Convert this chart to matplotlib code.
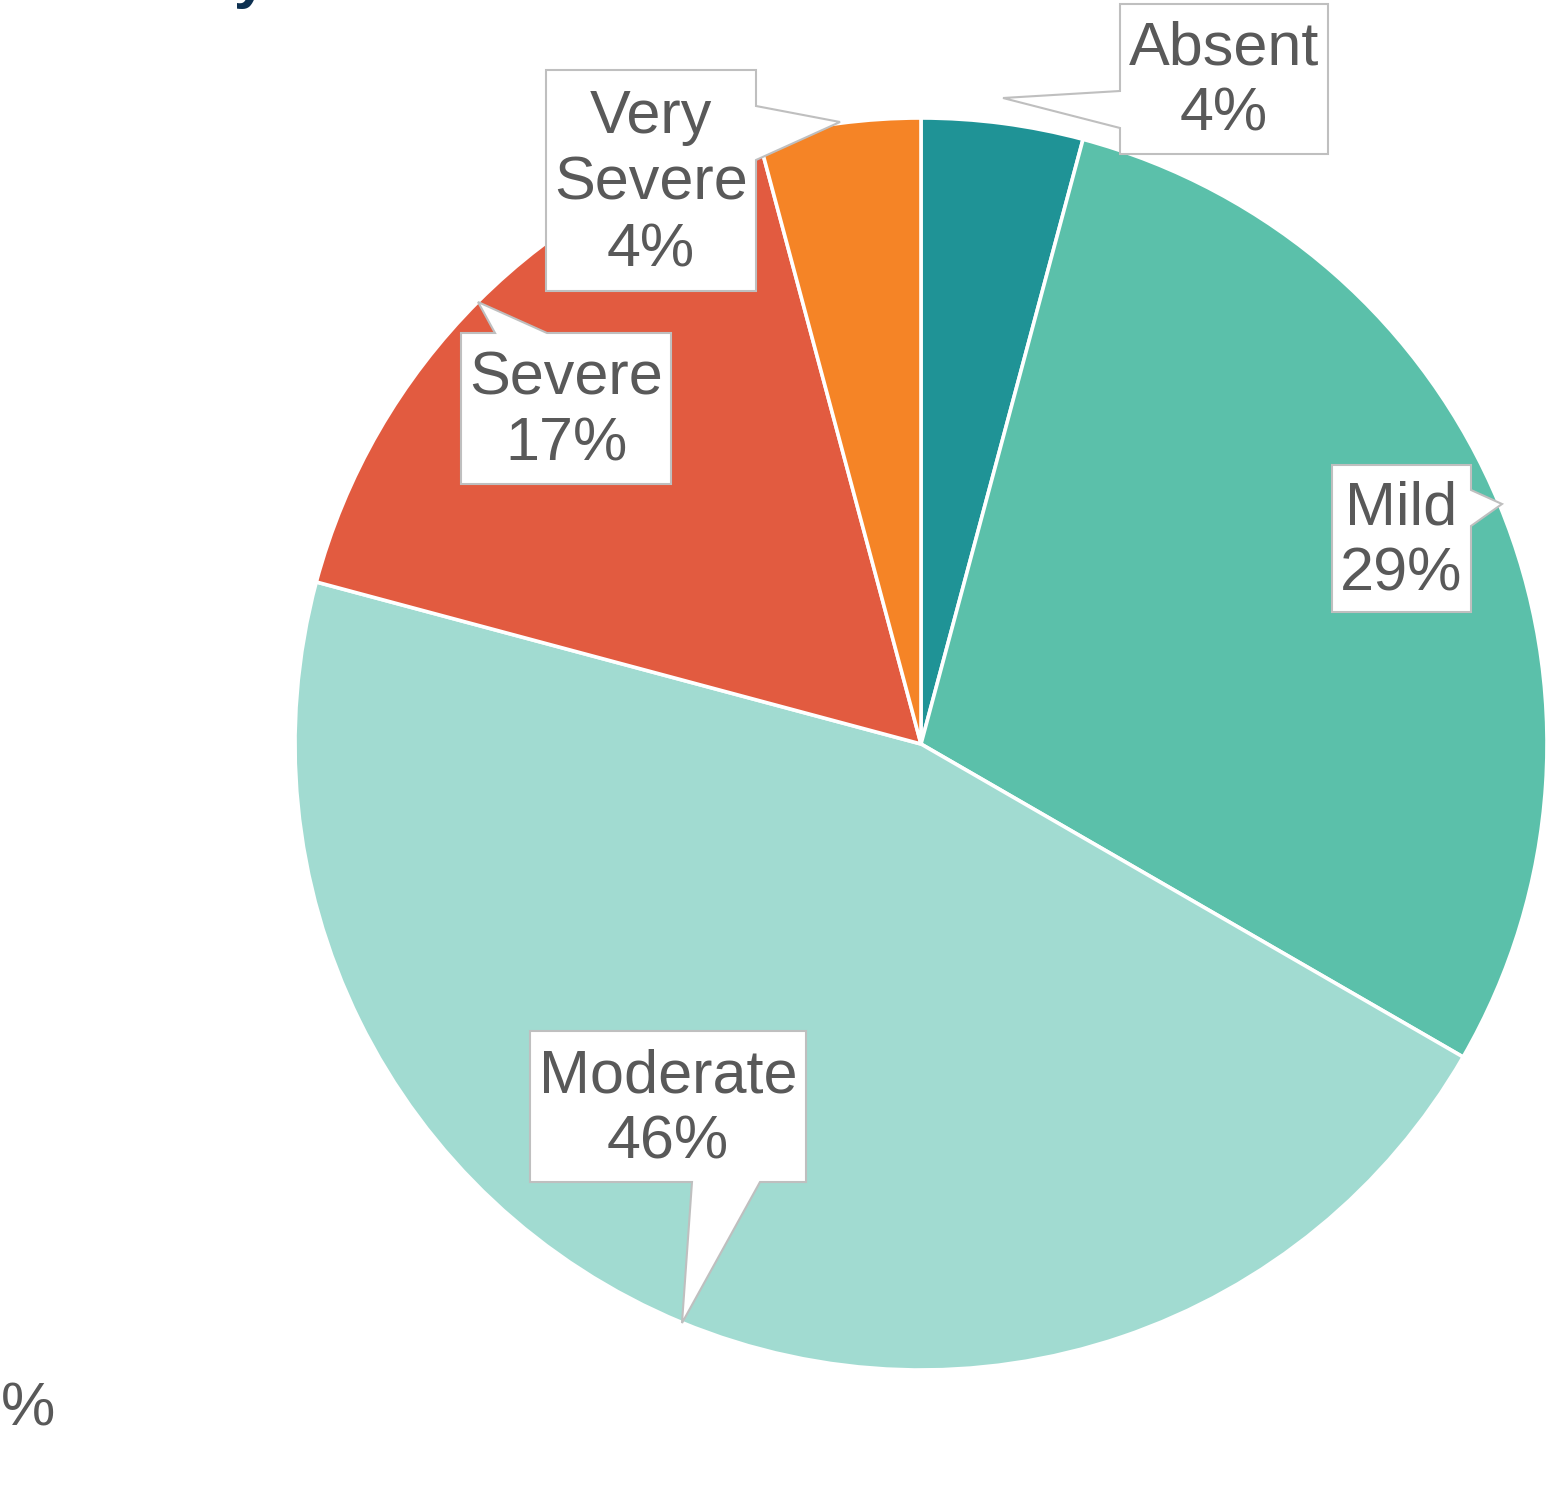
import matplotlib
matplotlib.use("Agg")
import matplotlib.pyplot as plt
from matplotlib.patches import Polygon

# ---- data ----
categories = ["Absent", "Mild", "Moderate", "Severe", "Very Severe"]
counts = [1, 7, 11, 4, 1]
colors = ["#1F9396", "#5BC0AA", "#A1DBD1", "#E25B40", "#F58426"]

# ---- layout (pixel coords, y down) ----
W, H = 1553, 1506
center_px = (921, 744)
radius_px = 626
callouts = {
    "Absent": dict(poly=[(1120, 4), (1328, 4), (1328, 154), (1120, 154), (1120, 128), (1003, 98), (1120, 91)],
                   text=(1224, 82), label="Absent"),
    "Mild": dict(poly=[(1332, 465), (1471, 465), (1471, 490), (1502, 504), (1471, 526), (1471, 612), (1332, 612)],
                 text=(1401, 542), label="Mild"),
    "Moderate": dict(poly=[(530, 1031), (806, 1031), (806, 1182), (760, 1182), (682, 1323), (692, 1182), (530, 1182)],
                     text=(668, 1110), label="Moderate"),
    "Severe": dict(poly=[(461, 333), (495, 333), (478, 302), (547, 333), (671, 333), (671, 484), (461, 484)],
                   text=(566, 412), label="Severe"),
    "Very Severe": dict(poly=[(546, 70), (756, 70), (756, 106), (840, 122), (756, 160), (756, 291), (546, 291)],
                        text=(651, 184), label="Very\nSevere"),
}

plt.rcParams['font.family'] = ['Liberation Sans', 'DejaVu Sans']
fig = plt.figure(figsize=(W / 100, H / 100), dpi=100)
ax = fig.add_axes([0, 0, 1, 1])

def fy(y):
    return H - y

total = sum(counts)
ax.pie(counts, colors=colors, startangle=90, counterclock=False,
       center=(center_px[0], fy(center_px[1])), radius=radius_px,
       wedgeprops=dict(edgecolor='white', linewidth=2.6), frame=True)
ax.set_xlim(0, W)
ax.set_ylim(0, H)
ax.set_aspect('equal')
ax.axis('off')

txt_color = "#595959"
for cat, cnt in zip(categories, counts):
    c = callouts[cat]
    pts = [(x, fy(y)) for x, y in c["poly"]]
    ax.add_patch(Polygon(pts, closed=True, facecolor='white', edgecolor='#BFBFBF',
                         linewidth=1.5, zorder=5))
    pct = f"{round(cnt / total * 100):.0f}%"
    ax.text(c["text"][0], fy(c["text"][1]), f"{c['label']}\n{pct}", ha='center', va='center',
            fontsize=44, color=txt_color, linespacing=1.22, zorder=6)

# remnants of neighbouring content visible at the edges of the crop
ax.text(268, fy(-4), "Severity", ha='right', va='baseline', fontsize=44,
        fontweight='bold', color='#0D3050')
ax.text(1, fy(1425), "%", ha='left', va='baseline', fontsize=44, color=txt_color)

fig.savefig("out.png", dpi=100)
